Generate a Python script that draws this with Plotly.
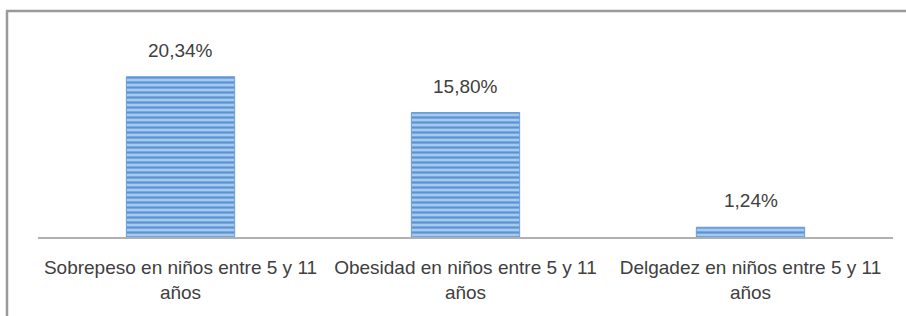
import plotly.graph_objects as go

categories = [
    "Sobrepeso en niños entre 5 y 11<br>años",
    "Obesidad en niños entre 5 y 11<br>años",
    "Delgadez en niños entre 5 y 11<br>años",
]
values = [20.34, 15.80, 1.24]
value_labels = ["20,34%", "15,80%", "1,24%"]

W, H = 906, 316
L, R, T, B = 38, 13, 40, 79
pw = W - L - R
ph = H - T - B

def px_x(x):
    return (x - L) / pw

def px_y(y):
    return (H - B - y) / ph

fig = go.Figure()
fig.add_trace(go.Bar(
    x=categories,
    y=values,
    width=0.38,
    marker=dict(
        color="#8dbbe8",
        line=dict(color="#6a9fd8", width=1),
        pattern=dict(shape="-", fgcolor="#5b93d2", bgcolor="#a6c9ef",
                     size=5, solidity=0.45, fillmode="replace"),
    ),
    hoverinfo="skip",
))

for c, v, t in zip(categories, values, value_labels):
    fig.add_annotation(x=c, y=v, text=t, showarrow=False, yanchor="bottom",
                       yshift=14, font=dict(family="Liberation Sans", size=19, color="#404040"))

frame_color = "#9a9a9a"
fig.add_shape(type="line", xref="paper", yref="paper",
              x0=px_x(6), x1=px_x(906), y0=px_y(11), y1=px_y(11),
              line=dict(color=frame_color, width=2.5))
fig.add_shape(type="line", xref="paper", yref="paper",
              x0=px_x(7), x1=px_x(7), y0=px_y(11), y1=px_y(316),
              line=dict(color=frame_color, width=2.5))

fig.update_layout(
    width=W, height=H,
    margin=dict(l=L, r=R, t=T, b=B, autoexpand=False),
    paper_bgcolor="white", plot_bgcolor="white",
    showlegend=False,
    font=dict(family="Liberation Sans", size=19, color="#404040"),
)
fig.update_xaxes(showline=True, linecolor="#b0b0b0", linewidth=2,
                 ticks="", ticklabelstandoff=12, automargin=False,
                 tickfont=dict(family="Liberation Sans", size=19, color="#404040"))
fig.update_yaxes(range=[0, 25], showgrid=False, showticklabels=False,
                 zeroline=False, showline=False, automargin=False)

fig.write_html("out.html", config={"displayModeBar": False},
               post_script="document.body.style.margin='0';document.body.style.overflow='hidden';")
